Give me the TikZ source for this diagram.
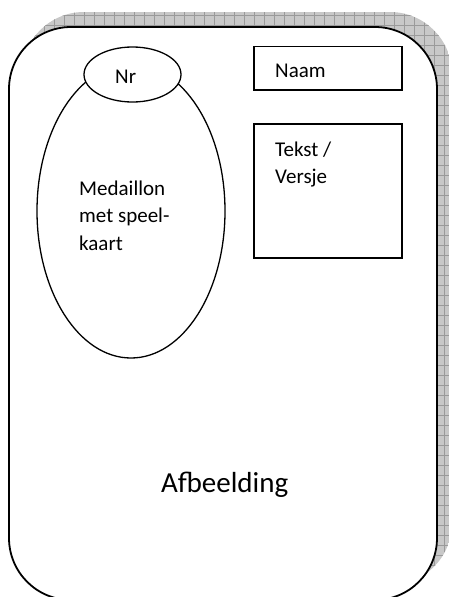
\documentclass[tikz,border=0pt]{standalone}
\usepackage{fontspec}
\setmainfont{Carlito}
\usetikzlibrary{shapes.geometric}
\definecolor{shadowgray}{HTML}{C8C8C8}
\definecolor{gridgray}{HTML}{9A9A9A}
\begin{document}
\begin{tikzpicture}[x=1pt,y=-1pt,
  card/.style={draw=black, line width=1.8pt, fill=white, rounded corners=62pt,
    minimum width=428pt, minimum height=573pt, inner sep=0pt},
  oval/.style={ellipse, draw=black, line width=1.3pt, inner sep=0pt},
  boxnode/.style={draw=black, line width=1.5pt, inner sep=0pt},
  lbl/.style={font=\fontsize{21}{27.3}\selectfont, inner sep=0pt, align=left},
  biglbl/.style={font=\fontsize{29}{35}\selectfont, inner sep=0pt},
  gridline/.style={draw=gridgray, line width=0.5pt}]
\useasboundingbox (0,0) rectangle (449,597);
% shadow
\begin{scope}
  \clip[rounded corners=62pt] (22,12) rectangle (452,585);
  \fill[shadowgray] (0,0) rectangle (460,600);
  \foreach \x in {4,14,...,454} \draw[gridline] (\x,0) -- (\x,600);
  \foreach \y in {5,15,...,595} \draw[gridline] (0,\y) -- (460,\y);
\end{scope}
% card
\node[card] (card) at (223,313.5) {};
% medaillon
\node[oval, minimum width=188pt, minimum height=294pt] (medaillon) at (131,211) {};
\node[oval, fill=white, minimum width=97pt, minimum height=55pt] (nr) at (132.5,74.5) {};
\node[lbl, anchor=base west] (nrtext) at (115,83) {Nr};
\node[lbl, anchor=base west] (medtext) at (79,250) {Medaillon\\met speel-\\kaart};
% boxes
\node[boxnode, minimum width=148pt, minimum height=43.3pt] (naam) at (328,68.3) {};
\node[lbl, anchor=base west] (naamtext) at (275,77) {Naam};
\node[boxnode, minimum width=148pt, minimum height=134pt] (tekst) at (328,191) {};
\node[lbl, anchor=base west] (tekstext) at (275,183.3) {Tekst /\\Versje};
% image label
\node[biglbl, anchor=base west] (afb) at (161,492) {Afbeelding};
\end{tikzpicture}
\end{document}
